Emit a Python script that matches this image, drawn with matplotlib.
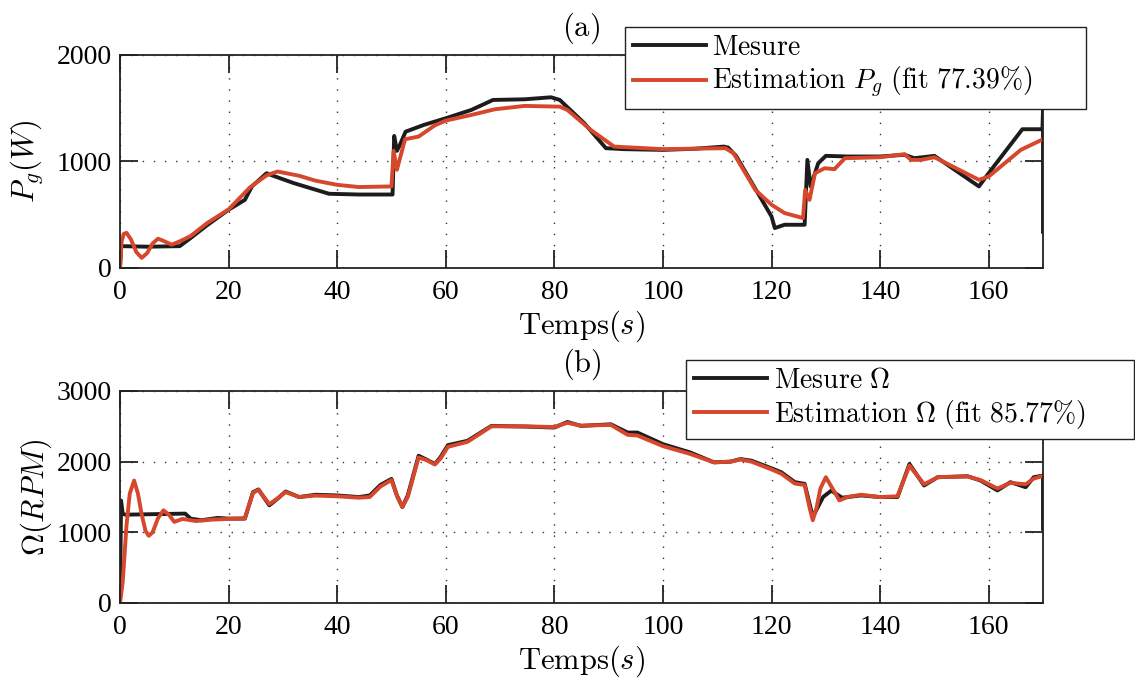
import numpy as np
import matplotlib
matplotlib.use("Agg")
import matplotlib.pyplot as plt

plt.rcParams['mathtext.fontset'] = 'cm'
plt.rcParams['font.family'] = ['Liberation Serif', 'DejaVu Serif']

# (a) puissance generee
t_pg_mes = [0, 0.2, 0.5, 5, 11, 13, 16, 20, 23, 24.3, 27, 28, 32, 38.5, 44, 50.2,
            50.5, 51, 51.5, 52.6, 56, 60, 64.7, 68.7, 74.5, 79.4, 81, 85.5, 89.5,
            92.8, 100, 106, 111.2, 112, 113.5, 120, 120.6, 122.4, 126.1, 126.6,
            127.2, 128.6, 130, 134, 140, 144.5, 146.3, 150, 158.2, 160, 166.2,
            169.9, 170, 170]
pg_mes = [0, 200, 205, 200, 205, 281, 400, 547, 640, 766, 890, 870, 797, 697, 690, 690,
          1240, 1100, 1150, 1280, 1344, 1406, 1484, 1578, 1584, 1603, 1578, 1360, 1125,
          1116, 1109, 1120, 1140, 1131, 1050, 484, 375, 406, 406, 1015,
          766, 984, 1053, 1047, 1047, 1063, 1031, 1053, 766, 891, 1303,
          1303, 1480, 340]

t_pg_est = [0, 0.3, 0.7, 1.2, 2, 3, 4, 5, 6, 7, 8, 9.5, 11, 13, 16, 20, 24, 27, 29, 33,
            36, 40, 44, 50, 50.4, 51, 52.5, 55, 58, 60, 64.7, 69, 74.5, 81, 82.4, 86.7,
            91, 100, 111.5, 113, 117, 120, 122.4, 125.8, 126.2, 127, 128, 129.8,
            131.6, 133.5, 140, 144.5, 145.7, 147.5, 150, 158.2, 160, 165.9, 170]
pg_est = [0, 250, 320, 330, 270, 150, 95, 140, 230, 275, 255, 219, 250, 300, 420, 550,
          760, 870, 906, 866, 820, 781, 760, 766, 1100, 922, 1209, 1234, 1340, 1384,
          1437, 1490, 1522, 1515, 1484, 1297, 1140, 1116, 1125, 1078, 734, 594, 516,
          469, 734, 640, 890, 937, 928, 1031, 1040, 1069, 1015, 1015, 1040, 828, 859,
          1109, 1209]

# (b) vitesse de rotation
t_w_mes = [0, 0.2, 0.5, 1, 12, 13, 15, 18, 20, 23, 24.5, 25.5, 27.5, 29, 30.5, 33, 36,
           40, 44, 46, 48, 50, 51, 52, 53, 55, 56.5, 58, 59, 60.4, 64, 68.4, 74.5, 80,
           82.4, 84.9, 90.4, 93.5, 95.3, 100, 105, 109.4, 112.4, 114.3, 116.3, 120,
           121.8, 124.3, 126.1, 127.6, 129.5, 131, 133, 136.5, 140, 143.2, 145.4,
           148.1, 150.6, 156.1, 158.5, 161.6, 164, 166.8, 168.3, 170, 170]
w_mes = [0, 1450, 1260, 1250, 1265, 1194, 1171, 1204, 1194, 1194, 1569, 1607, 1382, 1475,
         1578, 1499, 1532, 1522, 1499, 1522, 1672, 1756, 1522, 1358, 1522, 2084, 2028,
         1967, 2061, 2234, 2295, 2506, 2497, 2483, 2562, 2506, 2529, 2412, 2412, 2248,
         2131, 1991, 2000, 2037, 2014, 1906, 1850, 1710, 1686, 1218, 1500, 1590, 1490,
         1522, 1499, 1499, 1967, 1663, 1780, 1794, 1733, 1593, 1710, 1639, 1780, 1803,
         1050]

t_w_est = [0, 0.5, 1.2, 1.8, 2.6, 3.3, 4, 4.7, 5.3, 6, 7, 8, 9, 10, 11.5, 14, 17, 20,
           23, 24.5, 25.5, 27.5, 29, 30.5, 33, 36, 40, 44, 46, 48, 50, 51, 52, 53, 55,
           56.5, 58, 59, 60.4, 64, 68.4, 74.5, 80, 82.4, 84.9, 90.4, 93.5, 95.3, 100,
           105, 109.4, 112.4, 114.3, 116.3, 120, 121.8, 124.3, 126.1, 127, 127.6,
           128.3, 129, 130, 131, 132.5, 134, 136.5, 140, 143.2, 145.4, 148.1, 150.6,
           156.1, 158.5, 161.6, 164, 166.8, 168.3, 170]
w_est = [0, 300, 1100, 1550, 1733, 1550, 1250, 1020, 951, 1000, 1200, 1312, 1250, 1148,
         1190, 1160, 1180, 1190, 1200, 1560, 1600, 1400, 1480, 1570, 1500, 1520, 1510,
         1490, 1500, 1650, 1740, 1520, 1360, 1500, 2060, 2020, 1960, 2040, 2210, 2280,
         2500, 2500, 2490, 2550, 2510, 2520, 2380, 2370, 2220, 2110, 1990, 2000, 2030,
         2000, 1890, 1830, 1690, 1670, 1350, 1171, 1350, 1620, 1780, 1650, 1452, 1500,
         1532, 1499, 1510, 1944, 1680, 1780, 1790, 1740, 1620, 1700, 1680, 1760, 1800]

xticks = [0, 20, 40, 60, 80, 100, 120, 140, 160]

c_mes = '#1c1c1c'
c_est = '#d6472c'
grid_style = dict(color='#333333', linestyle=(0, (1, 7)), linewidth=1.0)

W, H = 1135, 681
fig = plt.figure(figsize=(W / 100, H / 100), dpi=100)
ax1 = fig.add_axes([120 / W, 1 - 268 / H, 923 / W, 213 / H])
ax2 = fig.add_axes([120 / W, 1 - 603 / H, 923 / W, 212 / H])


def style_axes(ax, ymax, yticks):
    ax.set_xlim(0, 170)
    ax.set_ylim(0, ymax)
    ax.set_xticks(xticks)
    ax.set_yticks(yticks)
    ax.grid(True, **grid_style)
    ax.tick_params(direction='in', top=True, right=True, length=13, width=1.3,
                   labelsize=20, color='#222222')
    ax.tick_params(axis='x', pad=9)
    ax.tick_params(axis='y', pad=6)
    for s in ax.spines.values():
        s.set_linewidth(1.3)
        s.set_color('#222222')
    ax.set_xlabel(r'$\mathrm{Temps}(s)$', fontsize=22, labelpad=2)


ax1.plot(t_pg_mes, pg_mes, color=c_mes, lw=2.8, label=r'$\mathrm{Mesure}$')
ax1.plot(t_pg_est, pg_est, color=c_est, lw=2.8,
         label=r'$\mathrm{Estimation}\ P_g\ \mathrm{(fit\ 77.39\%)}$')
style_axes(ax1, 2000, [0, 1000, 2000])
ax1.set_ylabel(r'$P_g(W)$', fontsize=22, labelpad=8)
ax1.set_title(r'$\mathrm{(a)}$', fontsize=22, pad=14)

ax2.plot(t_w_mes, w_mes, color=c_mes, lw=2.8, label=r'$\mathrm{Mesure}\ \Omega$')
ax2.plot(t_w_est, w_est, color=c_est, lw=2.8,
         label=r'$\mathrm{Estimation}\ \Omega\ \mathrm{(fit\ 85.77\%)}$')
style_axes(ax2, 3000, [0, 1000, 2000, 3000])
ax2.set_ylabel(r'$\Omega(RPM)$', fontsize=22, labelpad=2)
ax2.set_title(r'$\mathrm{(b)}$', fontsize=22, pad=14)

leg_kw = dict(loc='upper left', bbox_transform=fig.transFigure, fontsize=20,
              fancybox=False, framealpha=1, edgecolor='#222222', borderaxespad=0,
              mode='expand', handlelength=2.6, handletextpad=0.25,
              labelspacing=0.15, borderpad=0.3)
l1 = ax1.legend(bbox_to_anchor=(625 / W, 1 - 27 / H, 461 / W, 0), **leg_kw)
l2 = ax2.legend(bbox_to_anchor=(686 / W, 1 - 360 / H, 448 / W, 0), **leg_kw)
for lg in (l1, l2):
    lg.get_frame().set_linewidth(1.0)

fig.savefig('out.png', dpi=100)
